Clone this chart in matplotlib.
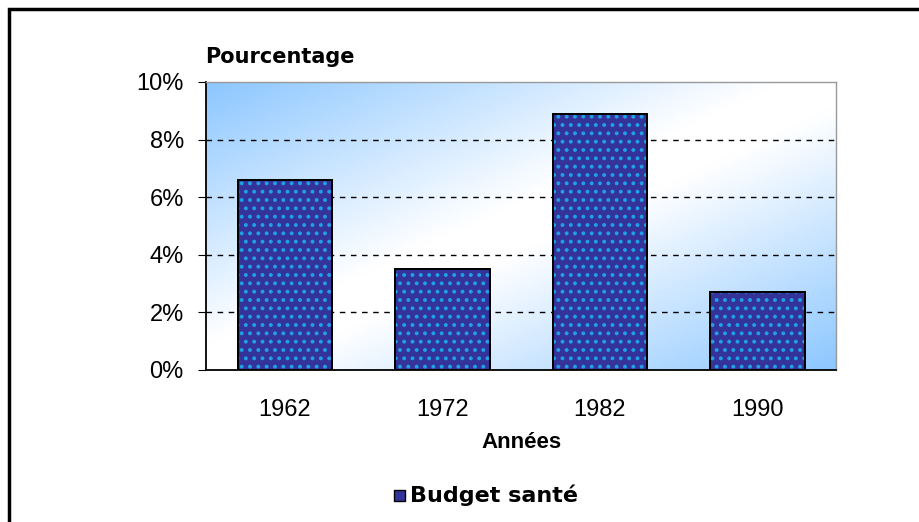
import numpy as np
import matplotlib
matplotlib.use("Agg")
from matplotlib import pyplot as plt
from matplotlib.patches import Rectangle
from matplotlib.ticker import FuncFormatter

annees = ["1962", "1972", "1982", "1990"]
budget_sante = [6.6, 3.5, 8.9, 2.7]
yticks = [0, 2, 4, 6, 8, 10]

plt.rcParams['font.family'] = ['Liberation Sans', 'DejaVu Sans']

fig = plt.figure(figsize=(9.2, 5.22), dpi=100)
ax = fig.add_axes([206/920, 1-370/522, 630/920, 288/522])

# diagonal gradient blue-white-blue
nx, ny = 200, 100
u = np.linspace(0, 1, nx)[None, :]
v = np.linspace(0, 1, ny)[:, None]
s = (u + v) / 2
w = 1 - np.abs(2*s - 1)
w = np.clip(w*1.1, 0, 1)
blue = np.array([0.55, 0.78, 1.0])
white = np.array([1.0, 1.0, 1.0])
img = blue[None, None, :]*(1-w[..., None]) + white[None, None, :]*w[..., None]
ax.imshow(img, extent=[-0.5, 3.5, 0, 10], aspect='auto', zorder=0, origin='upper')

x = np.arange(len(annees))
ax.set_xlim(-0.5, 3.5)
ax.set_ylim(0, 10)

for yy in [2, 4, 6, 8]:
    ax.axhline(yy, color='black', ls=(0, (4, 4)), lw=1, zorder=1)

ax.bar(x, budget_sante, width=0.6, color='#333399', edgecolor='black', lw=1.2, zorder=2)
plt.rcParams['hatch.linewidth'] = 1.6
ax.bar(x, budget_sante, width=0.6, color='none', edgecolor='#1fa0e8', lw=0, hatch='..', zorder=3)
ax.bar(x, budget_sante, width=0.6, color='none', edgecolor='black', lw=1.4, zorder=4)

ax.set_xticks(x)
ax.set_xticklabels(annees, fontsize=17)
ax.set_yticks(yticks)
ax.yaxis.set_major_formatter(FuncFormatter(lambda v, p: f"{v:.0f}%"))
ax.tick_params(axis='y', direction='out', length=6, labelsize=17, pad=10)
ax.tick_params(axis='x', direction='in', length=5, pad=21)

for side in ['top', 'right']:
    ax.spines[side].set_color('#999999')
    ax.spines[side].set_linewidth(1)
ax.spines['left'].set_linewidth(1.3)
ax.spines['bottom'].set_linewidth(1.3)

ax.set_xlabel("Années", fontsize=16, fontweight='bold', labelpad=8)
fig.text(205/920, 1-57/522, "Pourcentage", fontsize=15, fontweight='bold', va='center', ha='left',
         family='DejaVu Sans')

# legend
fig.patches.append(Rectangle((394/920, 1-501/522), 11/920, 11/522, transform=fig.transFigure,
                             facecolor='#333399', edgecolor='black', lw=1))
fig.text(410/920, 1-495/522, "Budget santé", fontsize=16, fontweight='bold', va='center', ha='left',
         family='DejaVu Sans')

# outer frame
fig.patches.append(Rectangle((9/920, -0.05), 1.0, 1-9/522+0.05, transform=fig.transFigure,
                             facecolor='none', edgecolor='black', lw=2.5))

fig.savefig("out.png", dpi=100)
